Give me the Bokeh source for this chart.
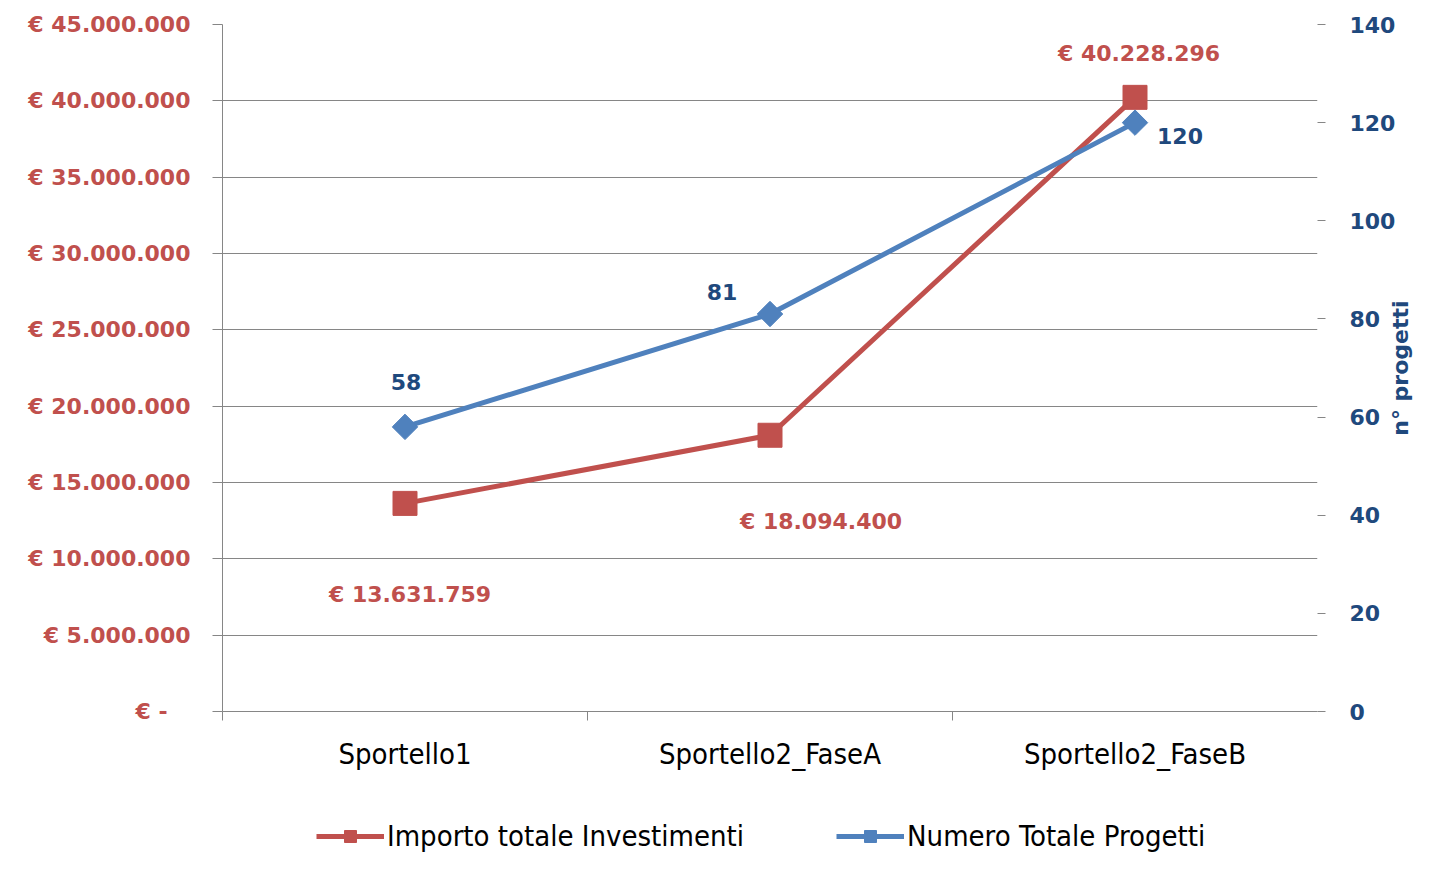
import math
from bokeh.plotting import figure
from bokeh.layouts import column
from bokeh.models import (Range1d, LinearAxis, FixedTicker, ColumnDataSource,
                          Legend, LegendItem)
from bokeh.core.properties import value
from bokeh.embed import file_html
from bokeh.resources import INLINE

categories = ["Sportello1", "Sportello2_FaseA", "Sportello2_FaseB"]
importo = [13631759, 18094400, 40228296]
progetti = [58, 81, 120]
series_names = ["Importo totale Investimenti", "Numero Totale Progetti"]
left_ticks = [0, 5000000, 10000000, 15000000, 20000000, 25000000, 30000000, 35000000, 40000000, 45000000]
left_labels = ["€ -\u00a0\u00a0\u00a0", "€ 5.000.000", "€ 10.000.000", "€ 15.000.000", "€ 20.000.000",
               "€ 25.000.000", "€ 30.000.000", "€ 35.000.000", "€ 40.000.000", "€ 45.000.000"]
right_ticks = [0, 20, 40, 60, 80, 100, 120, 140]
right_title = "n° progetti"

RED = "#C0504D"
BLUE = "#4F81BD"
DARKBLUE = "#1F497D"
GRID = "#868686"
BOLD_FONT = "DejaVu Sans"
NARROW_FONT = "Liberation Sans Narrow, DejaVu Sans Condensed, sans-serif"
LBL = "22px"

xs = [i + 0.5 for i in range(len(categories))]

p = figure(width=1428, height=814, output_backend="svg", toolbar_location=None,
           x_range=Range1d(0, len(categories)), y_range=Range1d(0, 45000000),
           min_border_left=222, min_border_right=108, min_border_top=24,
           min_border_bottom=103, outline_line_color=None)
p.extra_y_ranges = {"right": Range1d(0, 140)}

# x axis
p.xaxis.ticker = FixedTicker(ticks=xs, minor_ticks=list(range(len(categories))))
p.xaxis.major_label_overrides = {x: c for x, c in zip(xs, categories)}
p.xaxis.major_tick_out = 9
p.xaxis.major_tick_in = 0
p.xaxis.major_tick_line_color = None
p.xaxis.minor_tick_out = 9
p.xaxis.minor_tick_in = 0
p.xaxis.minor_tick_line_color = GRID
p.xaxis.axis_line_color = GRID
p.xaxis.major_label_standoff = 16
p.xaxis.major_label_text_font = NARROW_FONT
p.xaxis.major_label_text_font_size = "29px"
p.xaxis.major_label_text_color = "#000000"

# left axis
p.yaxis.ticker = FixedTicker(ticks=left_ticks)
p.yaxis.major_label_overrides = {t: l for t, l in zip(left_ticks, left_labels)}
p.yaxis.major_tick_out = 10
p.yaxis.major_tick_in = 0
p.yaxis.minor_tick_out = 0
p.yaxis.minor_tick_in = 0
p.yaxis.axis_line_color = GRID
p.yaxis.major_tick_line_color = GRID
p.yaxis.major_label_standoff = 22
p.yaxis.major_label_text_font = BOLD_FONT
p.yaxis.major_label_text_font_style = "bold"
p.yaxis.major_label_text_font_size = LBL
p.yaxis.major_label_text_color = RED

# right axis
ra = LinearAxis(y_range_name="right", ticker=FixedTicker(ticks=right_ticks))
ra.major_tick_out = 8
ra.major_tick_in = 0
ra.minor_tick_out = 0
ra.minor_tick_in = 0
ra.axis_line_color = None
ra.major_tick_line_color = GRID
ra.major_label_standoff = 24
ra.major_label_text_font = BOLD_FONT
ra.major_label_text_font_style = "bold"
ra.major_label_text_font_size = LBL
ra.major_label_text_color = DARKBLUE
props = ra.properties()
if "axis_label_orientation" in props and "axis_label_align" in props:
    ra.axis_label = "\u00a0" * 36 + right_title
    ra.axis_label_orientation = math.pi / 2
    ra.axis_label_align = "start"
else:
    ra.axis_label = right_title
ra.axis_label_text_font = BOLD_FONT
ra.axis_label_text_font_style = "bold"
ra.axis_label_text_font_size = LBL
ra.axis_label_text_color = DARKBLUE
ra.axis_label_standoff = 2
p.add_layout(ra, "right")

p.xgrid.visible = False
p.ygrid.ticker = FixedTicker(ticks=left_ticks)
p.ygrid.grid_line_color = GRID
p.ygrid.grid_line_width = 1

# series
p.line(xs, importo, line_color=RED, line_width=5)
p.scatter(xs, importo, marker="square", size=24, fill_color=RED, line_color=RED)
p.line(xs, progetti, line_color=BLUE, line_width=5, y_range_name="right")
p.scatter(xs, progetti, marker="square", angle=math.pi / 4, size=18,
          fill_color=BLUE, line_color=BLUE, y_range_name="right")

# data labels
red_src = ColumnDataSource(dict(
    x=xs, y=importo,
    t=["€ " + f"{v:,}".replace(",", ".") for v in importo],
    dx=[5, 51, 4], dy=[91, 86, -44]))
p.text(x="x", y="y", text="t", x_offset="dx", y_offset="dy", source=red_src,
       text_font=value(BOLD_FONT), text_font_style="bold", text_font_size=LBL,
       text_color=RED, text_align="center", text_baseline="middle")
blue_src = ColumnDataSource(dict(
    x=xs, y=progetti, t=[str(v) for v in progetti],
    dx=[1, -48, 45], dy=[-45, -22, 13]))
p.text(x="x", y="y", text="t", x_offset="dx", y_offset="dy", source=blue_src,
       y_range_name="right",
       text_font=value(BOLD_FONT), text_font_style="bold", text_font_size=LBL,
       text_color=DARKBLUE, text_align="center", text_baseline="middle")

# legend strip (same series, drawn off-view so only the legend shows)
lg = figure(width=1428, height=42, output_backend="svg", toolbar_location=None,
            x_range=Range1d(0, len(categories)), y_range=Range1d(-2, -1), min_border=0,
            outline_line_color=None)
lg.axis.visible = False
lg.grid.visible = False
r1 = lg.line(xs, importo, line_color=RED, line_width=5)
r2 = lg.scatter(xs, importo, marker="square", size=20, fill_color=RED, line_color=RED)
b1 = lg.line(xs, progetti, line_color=BLUE, line_width=5)
b2 = lg.scatter(xs, progetti, marker="square", angle=math.pi / 4, size=15,
                fill_color=BLUE, line_color=BLUE)
legend = Legend(items=[
    LegendItem(label=series_names[0], renderers=[r1, r2]),
    LegendItem(label=series_names[1], renderers=[b1, b2]),
], orientation="horizontal", location=(94, 3), glyph_width=68, glyph_height=30,
    label_standoff=3, spacing=92, padding=0, margin=0,
    border_line_color=None, background_fill_alpha=0,
    label_text_font=NARROW_FONT, label_text_font_size="29px", label_text_color="#000000")
lg.add_layout(legend, "center")

layout = column(p, lg, spacing=0)
open("out.html", "w").write(file_html(layout, INLINE))
